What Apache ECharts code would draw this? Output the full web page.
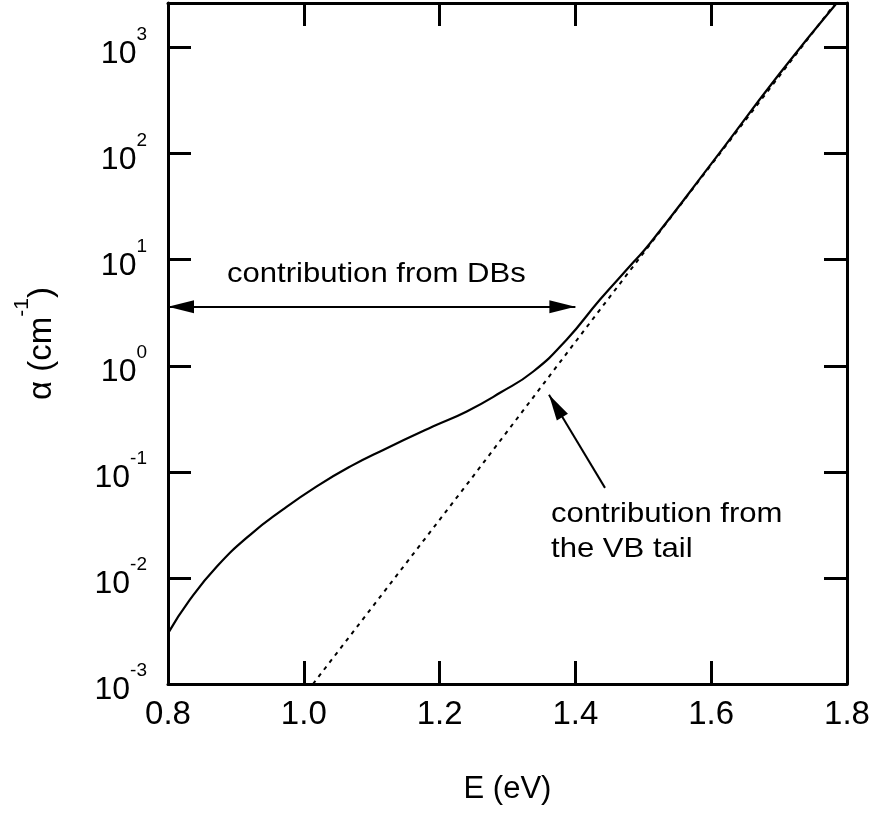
<!DOCTYPE html>
<html><head><meta charset="utf-8">
<script src="https://cdn.jsdelivr.net/npm/echarts@6/dist/echarts.min.js"></script>
<style>html,body{margin:0;padding:0;background:#fff}#c{width:874px;height:813px}</style>
</head><body><div id="c"></div>
<script>
// Total absorption (DB contribution + VB tail)
const energyTotal = [0.800, 0.832, 0.872, 0.921, 0.969, 1.019, 1.068, 1.117, 1.190, 1.240, 1.289, 1.338, 1.387, 1.436, 1.485, 1.510, 1.600, 1.700, 1.785];
const alphaTotal  = [0.0030, 0.0062, 0.0128, 0.0255, 0.044, 0.073, 0.112, 0.161, 0.267, 0.371, 0.556, 0.883, 1.76, 4.19, 9.4, 14.3, 80, 560, 2630];
// VB tail contribution (dotted)
const energyTail = [1.0135, 1.2473, 1.436, 1.783];
const alphaTail  = [0.001, 0.0873, 3.37, 2630];
// axes
const xMin = 0.8, xMax = 1.8, xStep = 0.2;
const yMin = 0.001, yMax = 2630;
// annotation arrows (data coordinates of tail / tip)
const dbArrow = [[0.8, 3.6], [1.4, 3.6]];
const tailArrow = [[1.4436, 0.0706], [1.3611, 0.532]];
const texts = {
  db: 'contribution from DBs',
  tail1: 'contribution from',
  tail2: 'the VB tail',
  xName: 'E (eV)'
};

const FONT = '"Liberation Sans", Arial, sans-serif';
const BLACK = '#000';
const HEAD = [13, 26];
const chart = echarts.init(document.getElementById('c'), null, {renderer: 'canvas'});

const toPairs = (xs, ys) => xs.map((x, i) => [x, ys[i]]);
const isPow10 = v => Math.abs(Math.log10(v) - Math.round(Math.log10(v))) < 1e-6;

const axisLineStyle = {show: true, lineStyle: {color: BLACK, width: 3}};
const tickStyle = {show: true, inside: true, length: 23, lineStyle: {color: BLACK, width: 3}};
const annot = (text, left, top) => ({
  type: 'text', left: left, top: top, scaleX: 1.11, scaleY: 1,
  style: {text: text, font: '28px ' + FONT, fill: BLACK}
});

chart.setOption({
  animation: false,
  backgroundColor: '#fff',
  grid: {left: 168, right: 27, top: 3, bottom: 129, containLabel: false},
  xAxis: [{
    type: 'value', min: xMin, max: xMax, interval: xStep, position: 'bottom',
    axisLine: axisLineStyle, axisTick: tickStyle, splitLine: {show: false},
    axisLabel: {fontSize: 33, fontFamily: FONT, color: BLACK, margin: 14,
      formatter: v => v.toFixed(1)},
    name: texts.xName, nameLocation: 'middle', nameGap: 90,
    nameTextStyle: {fontSize: 31, fontFamily: FONT, color: BLACK}
  }, {
    type: 'value', min: xMin, max: xMax, interval: xStep, position: 'top',
    axisLine: axisLineStyle, axisTick: tickStyle, splitLine: {show: false},
    axisLabel: {show: false}
  }],
  yAxis: [{
    type: 'log', logBase: 10, min: yMin, max: yMax, position: 'left',
    axisLine: axisLineStyle, axisTick: tickStyle, splitLine: {show: false},
    minorTick: {show: false},
    axisLabel: {margin: 21, color: BLACK,
      formatter: v => isPow10(v) ? '{b|10}{s|' + Math.round(Math.log10(v)) + '}' : '',
      rich: {
        b: {fontSize: 32, lineHeight: 45, fontFamily: FONT, color: BLACK, verticalAlign: 'bottom'},
        s: {fontSize: 19, lineHeight: 19, fontFamily: FONT, color: BLACK, verticalAlign: 'top'}
      }},
    name: '{a|\u03b1 (cm}{s|-1}{a|)}', nameLocation: 'middle', nameRotate: 90, nameGap: 110,
    nameTextStyle: {rich: {
      a: {fontSize: 33, lineHeight: 46, fontFamily: FONT, color: BLACK, verticalAlign: 'bottom'},
      s: {fontSize: 21, lineHeight: 21, fontFamily: FONT, color: BLACK, verticalAlign: 'top'}
    }}
  }, {
    type: 'log', logBase: 10, min: yMin, max: yMax, position: 'right',
    axisLine: axisLineStyle, axisTick: tickStyle, splitLine: {show: false},
    axisLabel: {show: false}
  }],
  series: [{
    type: 'line', name: 'total', xAxisIndex: 0, yAxisIndex: 0,
    data: toPairs(energyTotal, alphaTotal),
    showSymbol: false, smooth: 0.5, clip: true,
    lineStyle: {color: BLACK, width: 2.2},
    silent: true,
    markLine: {
      silent: true, animation: false,
      symbol: ['triangle', 'triangle'], symbolSize: HEAD,
      symbolOffset: [[0, HEAD[1] / 2], [0, HEAD[1] / 2]],
      label: {show: false},
      lineStyle: {color: BLACK, width: 2, type: 'solid'},
      itemStyle: {color: BLACK},
      data: [
        [{coord: dbArrow[0]}, {coord: dbArrow[1]}],
        [{coord: tailArrow[0], symbol: 'none'}, {coord: tailArrow[1], symbol: 'triangle'}]
      ]
    }
  }, {
    type: 'line', name: 'tail', xAxisIndex: 0, yAxisIndex: 0,
    data: toPairs(energyTail, alphaTail),
    showSymbol: false, clip: true, silent: true,
    lineStyle: {color: BLACK, width: 2, type: [4, 5]},
    z: 1
  }],
  graphic: [
    annot(texts.db, 227, 260),
    annot(texts.tail1, 551, 500),
    annot(texts.tail2, 551, 535)
  ]
});
</script></body></html>
